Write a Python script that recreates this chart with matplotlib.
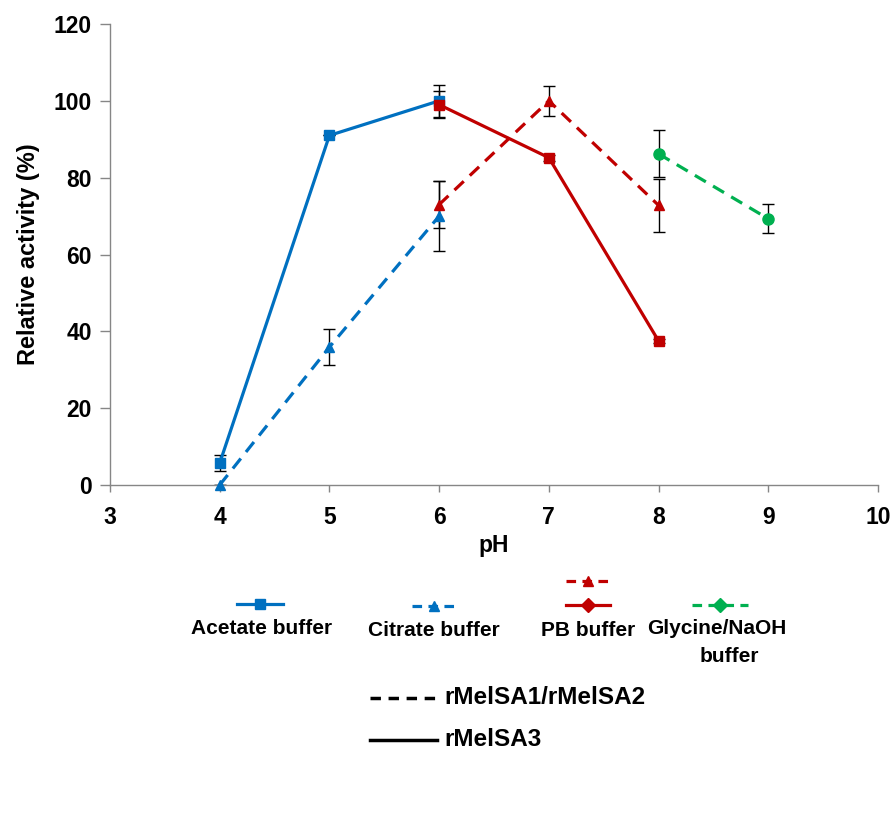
import matplotlib
matplotlib.use("Agg")
import matplotlib.pyplot as plt
from matplotlib.lines import Line2D

plt.rcParams['font.family'] = ['Liberation Sans', 'DejaVu Sans']
plt.rcParams['font.weight'] = 'bold'

# ---- data ----
acetate_ph = [4, 5, 6]
acetate_val = [5.7, 91.0, 100.0]
acetate_err = [2.1, 0.0, 4.2]

citrate_ph = [4, 5, 6]
citrate_val = [0.0, 35.9, 70.0]
citrate_err = [0.0, 4.7, 9.2]

pb_dash_ph = [6, 7, 8]
pb_dash_val = [73.0, 100.0, 72.8]
pb_dash_err = [6.2, 3.9, 6.9]

pb_solid_ph = [6, 7, 8]
pb_solid_val = [99.0, 85.2, 37.5]
pb_solid_err = [3.5, 0.8, 0.5]

gly_ph = [8, 9]
gly_val = [86.2, 69.3]
gly_err = [6.1, 3.8]

xticks = [3, 4, 5, 6, 7, 8, 9, 10]
yticks = [0, 20, 40, 60, 80, 100, 120]

BLUE = '#0070C0'
RED = '#C00000'
GREEN = '#00B050'
GRAY = '#868686'

W, H = 896, 816
fig = plt.figure(figsize=(W / 100, H / 100), dpi=100)
ax = fig.add_axes([110 / W, (H - 485) / H, (878 - 110) / W, (485 - 24) / H])

lw = 2.3
DASH = (0, (4, 2.6))

def series(x, y, e, color, ls, marker, ms, z=3):
    ax.errorbar(x, y, yerr=e, fmt='none', ecolor='black', elinewidth=1.0,
                capsize=4.5, capthick=1.0, zorder=2)
    ax.plot(x, y, color=color, lw=lw, ls=ls, marker=marker, ms=ms, zorder=z, clip_on=False)

series(acetate_ph, acetate_val, acetate_err, BLUE, '-', 's', 7)
series(citrate_ph, citrate_val, citrate_err, BLUE, DASH, '^', 7.5)
series(pb_dash_ph, pb_dash_val, pb_dash_err, RED, DASH, '^', 7.5)
series(pb_solid_ph, pb_solid_val, pb_solid_err, RED, '-', 's', 7, z=4)
series(gly_ph, gly_val, gly_err, GREEN, DASH, 'o', 8)

ax.set_xlim(3, 10)
ax.set_ylim(0, 120)
ax.set_xticks(xticks)
ax.set_yticks(yticks)
ax.tick_params(axis='y', labelsize=16.5, length=7, width=1, color=GRAY, direction='out', pad=6)
ax.tick_params(axis='x', labelsize=16.5, length=5, width=1, color=GRAY, direction='out', pad=10)
for lab in ax.get_xticklabels() + ax.get_yticklabels():
    lab.set_fontweight('bold')
for s in ['top', 'right']:
    ax.spines[s].set_visible(False)
for s in ['left', 'bottom']:
    ax.spines[s].set_color(GRAY)
    ax.spines[s].set_linewidth(1.0)
ax.set_xlabel('pH', fontsize=16.5, fontweight='bold', labelpad=4)
ax.set_ylabel('Relative activity (%)', fontsize=17, fontweight='bold', labelpad=10)

# ---- custom legend (pixel coordinates) ----
lg = fig.add_axes([0, 0, 1, 1], facecolor='none')
lg.set_xlim(0, W)
lg.set_ylim(H, 0)
lg.axis('off')

def leg_line(x0, x1, y, color, ls, marker, ms):
    xm = (x0 + x1) / 2
    lg.add_line(Line2D([x0, x1], [y, y], color=color, lw=lw, ls=ls))
    lg.add_line(Line2D([xm], [y], color=color, marker=marker, ms=ms, ls='none'))

leg_line(237, 283, 604, BLUE, '-', 's', 7)
leg_line(412, 456, 606, BLUE, (0, (3, 2)), '^', 7)
leg_line(566, 610, 581, RED, (0, (3, 2)), '^', 7)
leg_line(566, 610, 605, RED, '-', 'D', 7)
leg_line(692, 748, 605, GREEN, (0, (3, 2)), 'D', 7)

fs = 15
lg.text(262, 629, 'Acetate buffer', ha='center', va='center', fontsize=fs, fontweight='bold')
lg.text(434, 631, 'Citrate buffer', ha='center', va='center', fontsize=fs, fontweight='bold')
lg.text(588, 630, 'PB buffer', ha='center', va='center', fontsize=fs, fontweight='bold')
lg.text(717, 629, 'Glycine/NaOH', ha='center', va='center', fontsize=fs, fontweight='bold')
lg.text(729, 657, 'buffer', ha='center', va='center', fontsize=fs, fontweight='bold')

lg.add_line(Line2D([370, 437], [698, 698], color='black', lw=2.5, ls=(0, (3, 2.2))))
lg.add_line(Line2D([370, 437], [740, 740], color='black', lw=2.5, ls='-'))
lg.text(444, 697, 'rMelSA1/rMelSA2', ha='left', va='center', fontsize=17.5, fontweight='bold')
lg.text(444, 739, 'rMelSA3', ha='left', va='center', fontsize=17.5, fontweight='bold')

fig.savefig('out.png', dpi=100)
